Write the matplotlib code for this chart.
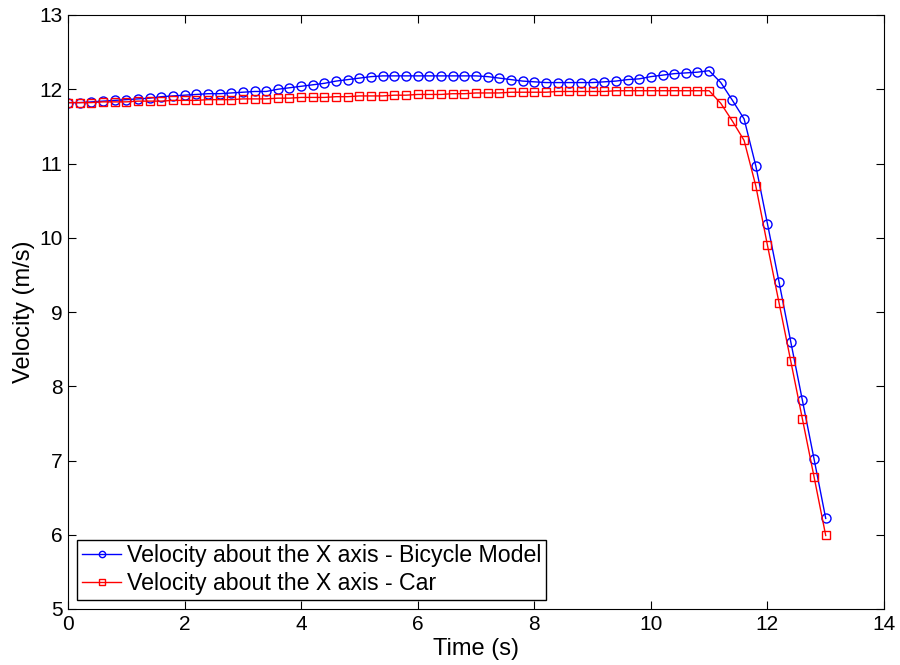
import matplotlib
matplotlib.use('Agg')
import matplotlib.pyplot as plt

plt.rcParams['font.family'] = ['Liberation Sans', 'DejaVu Sans']

# time samples (s)
time = [0.0, 0.2, 0.4, 0.6, 0.8, 1.0, 1.2, 1.4, 1.6, 1.8,
        2.0, 2.2, 2.4, 2.6, 2.8, 3.0, 3.2, 3.4, 3.6, 3.8,
        4.0, 4.2, 4.4, 4.6, 4.8, 5.0, 5.2, 5.4, 5.6, 5.8,
        6.0, 6.2, 6.4, 6.6, 6.8, 7.0, 7.2, 7.4, 7.6, 7.8,
        8.0, 8.2, 8.4, 8.6, 8.8, 9.0, 9.2, 9.4, 9.6, 9.8,
        10.0, 10.2, 10.4, 10.6, 10.8, 11.0, 11.2, 11.4, 11.6, 11.8,
        12.0, 12.2, 12.4, 12.6, 12.8, 13.0]

# velocity - bicycle model (m/s)
v_bicycle = [11.82, 11.82, 11.83, 11.84, 11.85, 11.86, 11.87, 11.88, 11.90, 11.91,
             11.92, 11.93, 11.94, 11.94, 11.95, 11.96, 11.97, 11.97, 12.00, 12.02,
             12.04, 12.06, 12.08, 12.11, 12.13, 12.15, 12.17, 12.18, 12.18, 12.18,
             12.18, 12.18, 12.18, 12.18, 12.18, 12.18, 12.17, 12.15, 12.13, 12.11,
             12.10, 12.09, 12.09, 12.09, 12.09, 12.09, 12.10, 12.11, 12.13, 12.14,
             12.17, 12.19, 12.21, 12.22, 12.23, 12.25, 12.09, 11.85, 11.60, 10.97,
             10.19, 9.40, 8.60, 7.81, 7.02, 6.22]

# velocity - car (m/s)
v_car = [11.82, 11.82, 11.82, 11.83, 11.83, 11.83, 11.84, 11.84, 11.84, 11.85,
         11.85, 11.85, 11.86, 11.86, 11.86, 11.87, 11.87, 11.87, 11.88, 11.88,
         11.89, 11.89, 11.89, 11.90, 11.90, 11.91, 11.91, 11.91, 11.92, 11.92,
         11.93, 11.93, 11.93, 11.94, 11.94, 11.95, 11.95, 11.95, 11.96, 11.96,
         11.96, 11.96, 11.97, 11.97, 11.97, 11.97, 11.97, 11.98, 11.98, 11.98,
         11.98, 11.98, 11.98, 11.98, 11.98, 11.98, 11.81, 11.57, 11.31, 10.70,
         9.90, 9.12, 8.34, 7.56, 6.78, 5.99]

fig = plt.figure(figsize=(9, 6.65), dpi=100)
ax = fig.add_axes([68 / 900, 1 - 609 / 665, (884 - 68) / 900, (609 - 15) / 665])

ax.plot(time, v_bicycle, color='blue', marker='o', markersize=6.5,
        markerfacecolor='none', lw=1, label='Velocity about the X axis - Bicycle Model')
ax.plot(time, v_car, color='red', marker='s', markersize=5.5,
        markerfacecolor='none', lw=1, label='Velocity about the X axis - Car')

ax.set_xlim(0, 14)
ax.set_ylim(5, 13)
ax.set_xticks(range(0, 15, 2))
ax.set_yticks(range(5, 14))
ax.tick_params(direction='in', top=True, right=True, length=6, labelsize=15, pad=4)
ax.set_xlabel('Time (s)', fontsize=17, labelpad=3)
ax.set_ylabel('Velocity (m/s)', fontsize=17, labelpad=3)

leg = ax.legend(loc='lower left', fontsize=16.7, fancybox=False, edgecolor='black',
                framealpha=1, borderpad=0.2, labelspacing=0.2, handlelength=1.7,
                handletextpad=0.25, borderaxespad=0.4, markerscale=0.7)
leg.get_frame().set_linewidth(1)

fig.savefig('out.png', dpi=100)
